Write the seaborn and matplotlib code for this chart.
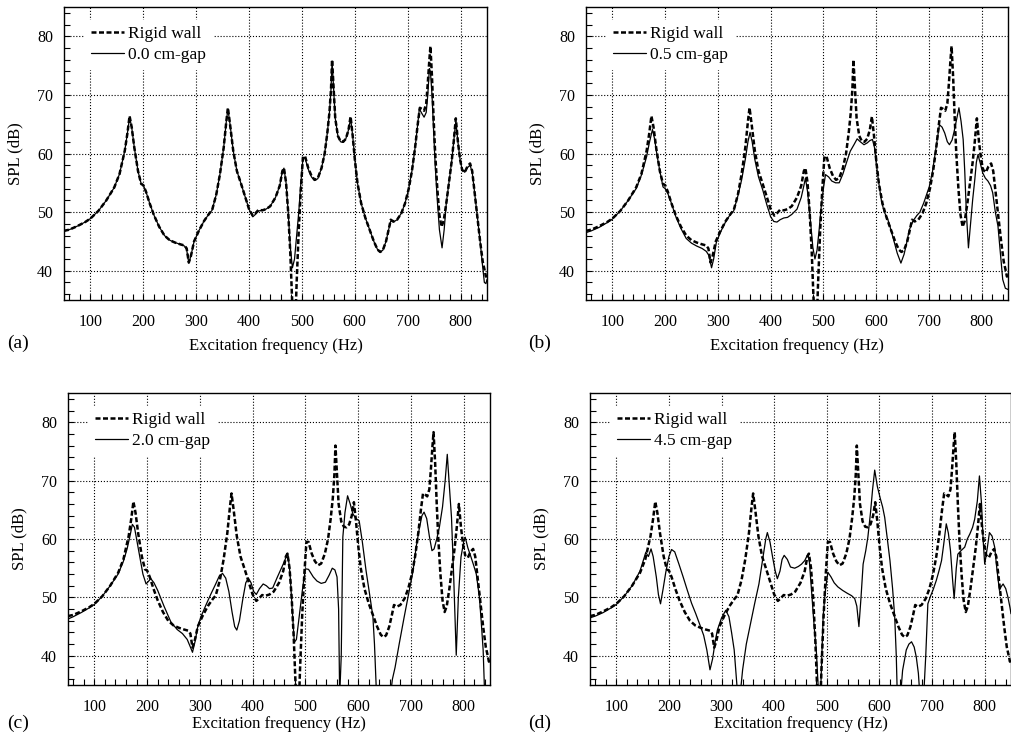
import matplotlib
matplotlib.use("Agg")
import matplotlib.pyplot as plt
from matplotlib.ticker import MultipleLocator
import pandas as pd
import seaborn as sns

sns.set_style("ticks")
plt.rcParams['font.family'] = ['Liberation Serif', 'DejaVu Serif']
plt.rcParams.update({'axes.edgecolor': 'black', 'text.color': 'black',
                     'xtick.color': 'black', 'ytick.color': 'black',
                     'axes.labelcolor': 'black'})

# (frequency Hz, SPL dB)
rigid_wall = [(50, 46.8), (60, 47.0), (75, 47.6), (90, 48.3), (100, 48.9), (115, 50.2), (130, 52.0), (145, 54.2),
              (155, 56.5), (165, 60.5), (170, 63.5), (174, 66.4), (178, 64.5), (183, 61.0), (190, 57.0), (196, 54.8),
              (200, 54.6), (205, 53.5), (212, 51.5), (220, 49.5), (230, 47.5), (240, 46.0), (250, 45.2), (260, 44.8),
              (270, 44.5), (278, 44.3), (282, 43.8), (286, 41.4), (290, 42.5), (296, 45.0), (305, 46.8), (315, 48.5),
              (325, 49.8), (330, 50.3), (338, 53.0), (345, 56.5), (352, 61.0), (357, 65.5), (360, 67.8), (364, 65.0),
              (370, 60.5), (377, 57.0), (385, 54.8), (393, 52.5), (400, 50.5), (407, 49.4), (412, 49.8), (418, 50.4),
              (425, 50.3), (432, 50.5), (440, 51.0), (450, 52.5), (458, 54.5), (463, 57.0), (466, 57.5), (470, 55.0),
              (474, 50.0), (478, 43.0), (481, 36.0), (484, 30.0), (487, 30.0), (490, 38.0), (494, 47.0), (498, 54.0),
              (502, 59.5), (506, 59.5), (512, 57.5), (518, 56.2), (524, 55.5), (530, 55.8), (537, 57.5), (543, 60.0),
              (548, 63.5), (552, 67.0), (555, 71.0), (557, 76.0), (560, 71.0), (563, 66.0), (568, 63.0), (573, 62.1),
              (578, 62.0), (583, 62.5), (588, 64.0), (592, 66.3), (596, 63.0), (600, 59.0), (605, 55.0), (612, 51.5),
              (620, 49.0), (628, 47.0), (636, 45.0), (643, 43.6), (648, 43.2), (653, 43.5), (659, 45.0), (664, 47.0),
              (668, 48.7), (673, 48.4), (680, 48.7), (688, 49.8), (695, 51.5), (702, 54.0), (708, 57.0), (714, 61.0),
              (719, 65.0), (723, 67.8), (727, 67.6), (731, 67.3), (735, 68.5), (738, 72.0), (741, 76.0), (743, 78.3),
              (746, 73.0), (749, 66.0), (752, 60.0), (756, 54.0), (760, 49.5), (764, 47.5), (768, 48.5), (773, 51.5),
              (778, 55.0), (783, 58.5), (787, 62.0), (791, 66.0), (795, 62.0), (799, 59.0), (803, 57.2), (808, 56.8),
              (813, 57.8), (818, 58.3), (822, 57.0), (827, 53.0), (832, 49.0), (837, 45.0), (842, 41.5), (845, 40.3),
              (848, 39.0), (850, 39.5)]

gap_00 = [(50, 46.8), (60, 47.0), (75, 47.6), (90, 48.3), (100, 48.9), (115, 50.2), (130, 52.0), (145, 54.2),
          (155, 56.5), (165, 60.5), (170, 63.5), (174, 66.2), (178, 64.5), (183, 61.0), (190, 57.0), (196, 54.8),
          (200, 54.6), (205, 53.5), (212, 51.5), (220, 49.5), (230, 47.5), (240, 46.0), (250, 45.2), (260, 44.8),
          (270, 44.5), (278, 44.2), (282, 43.6), (286, 41.3), (290, 42.5), (296, 45.0), (305, 46.8), (315, 48.5),
          (325, 49.8), (330, 50.3), (338, 53.0), (345, 56.5), (352, 61.0), (357, 65.5), (360, 67.6), (364, 65.0),
          (370, 60.5), (377, 57.0), (385, 54.8), (393, 52.5), (400, 50.5), (407, 49.2), (412, 49.6), (418, 50.2),
          (425, 50.3), (432, 50.5), (440, 51.0), (450, 52.5), (458, 54.5), (463, 57.0), (466, 57.5), (470, 55.0),
          (474, 50.0), (478, 44.0), (482, 40.5), (486, 42.0), (490, 46.0), (494, 50.0), (498, 55.0), (502, 59.3),
          (506, 59.2), (512, 57.3), (518, 56.0), (524, 55.4), (530, 55.7), (537, 57.5), (543, 60.0), (548, 63.5),
          (552, 67.0), (555, 71.0), (557, 75.8), (560, 71.0), (563, 66.0), (568, 63.0), (573, 62.0), (578, 61.9),
          (583, 62.5), (588, 64.0), (592, 66.0), (596, 63.0), (600, 59.0), (605, 55.0), (612, 51.5), (620, 49.0),
          (628, 47.0), (636, 45.0), (643, 43.6), (648, 43.2), (653, 43.5), (659, 45.0), (664, 47.0), (668, 48.5),
          (673, 48.3), (680, 48.7), (688, 49.8), (695, 51.5), (702, 54.0), (708, 57.0), (714, 61.0), (719, 65.0),
          (722, 67.6), (727, 66.8), (731, 66.2), (735, 67.0), (738, 70.0), (741, 74.5), (743, 74.0), (746, 70.0),
          (749, 64.0), (752, 58.0), (756, 52.0), (760, 47.0), (765, 43.9), (769, 47.0), (773, 51.5), (778, 55.0),
          (783, 58.5), (787, 62.0), (791, 65.5), (795, 62.0), (799, 59.0), (803, 57.2), (808, 56.8), (813, 57.6),
          (818, 58.0), (822, 56.8), (827, 53.0), (832, 49.0), (837, 45.0), (842, 40.5), (845, 38.0), (848, 37.8),
          (850, 38.5)]

gap_05 = [(50, 46.5), (60, 46.8), (75, 47.4), (90, 48.2), (100, 48.8), (115, 50.2), (130, 52.0), (145, 54.0),
          (155, 56.3), (165, 59.5), (170, 61.8), (176, 64.1), (180, 62.5), (185, 59.5), (190, 57.0), (196, 54.3),
          (200, 54.0), (205, 53.2), (212, 51.5), (220, 49.3), (230, 47.2), (240, 45.5), (250, 44.7), (260, 44.2),
          (270, 43.8), (278, 43.3), (283, 42.6), (288, 40.5), (292, 42.0), (297, 44.8), (305, 46.6), (315, 48.4),
          (325, 49.8), (330, 50.2), (338, 52.8), (345, 55.5), (352, 59.0), (357, 62.0), (361, 63.6), (365, 62.0),
          (370, 59.0), (377, 56.0), (385, 53.8), (393, 51.2), (400, 49.2), (406, 48.4), (412, 48.3), (418, 48.7),
          (425, 49.0), (432, 49.1), (440, 49.6), (450, 50.5), (458, 52.5), (463, 54.5), (466, 55.8), (470, 53.5),
          (475, 49.0), (480, 44.0), (484, 42.0), (488, 43.5), (492, 47.0), (496, 51.0), (500, 54.0), (504, 56.4),
          (510, 56.0), (516, 55.3), (523, 55.0), (530, 55.0), (537, 56.5), (544, 58.5), (551, 60.4), (558, 61.5),
          (564, 62.5), (570, 62.0), (577, 61.5), (583, 61.8), (588, 62.2), (593, 62.4), (597, 61.0), (600, 58.5),
          (605, 55.0), (610, 52.0), (615, 50.1), (622, 48.8), (628, 47.0), (634, 45.0), (640, 43.0), (647, 41.3),
          (653, 42.8), (658, 44.8), (663, 47.0), (670, 48.5), (677, 49.4), (683, 50.0), (690, 51.5), (695, 52.8),
          (701, 54.4), (707, 57.0), (712, 60.0), (716, 62.5), (720, 64.9), (725, 64.5), (730, 63.5), (735, 62.0),
          (739, 61.5), (744, 62.3), (748, 63.8), (753, 66.0), (757, 67.8), (761, 65.5), (765, 62.4), (768, 57.0),
          (771, 50.0), (775, 43.9), (779, 48.0), (783, 52.1), (787, 55.5), (790, 58.5), (793, 59.8), (797, 58.5),
          (802, 56.7), (807, 55.8), (812, 55.3), (817, 54.5), (821, 53.3), (826, 50.0), (831, 47.6), (836, 42.5),
          (840, 38.5), (845, 37.0), (850, 36.8)]

gap_20 = [(50, 46.3), (60, 46.7), (75, 47.4), (90, 48.2), (100, 48.8), (115, 50.2), (130, 52.0), (145, 54.0),
          (155, 56.2), (162, 58.3), (167, 60.3), (172, 62.5), (176, 62.0), (180, 60.0), (185, 57.5), (192, 54.0),
          (198, 52.3), (203, 52.8), (207, 53.2), (213, 52.5), (220, 51.2), (232, 48.5), (245, 45.8), (257, 44.5),
          (267, 43.8), (276, 42.8), (282, 41.5), (286, 40.6), (291, 42.5), (296, 45.0), (302, 46.7), (312, 48.8),
          (321, 50.6), (330, 52.3), (337, 53.7), (343, 54.1), (349, 53.3), (355, 51.0), (361, 47.5), (366, 45.0),
          (370, 44.4), (375, 46.0), (381, 49.5), (387, 52.5), (392, 53.3), (397, 52.5), (402, 51.0), (407, 50.5),
          (413, 51.5), (420, 52.3), (426, 52.0), (432, 51.5), (438, 51.6), (447, 53.5), (458, 55.7), (463, 56.8),
          (467, 57.4), (471, 54.0), (475, 48.0), (479, 42.3), (483, 42.8), (488, 46.5), (494, 51.0), (500, 54.9),
          (506, 54.8), (515, 53.5), (522, 52.8), (530, 52.4), (538, 52.6), (545, 53.8), (551, 55.0), (556, 54.7),
          (560, 53.5), (563, 48.0), (565, 33.0), (568, 40.0), (571, 60.3), (575, 64.5), (580, 67.4), (585, 66.0),
          (590, 64.3), (596, 63.5), (602, 63.1), (608, 59.5), (615, 54.6), (621, 51.0), (628, 46.7), (631, 42.0),
          (635, 33.0), (661, 33.0), (665, 36.0), (670, 38.0), (678, 42.1), (687, 46.5), (697, 51.2), (704, 54.5),
          (710, 58.6), (716, 61.8), (721, 64.0), (725, 64.6), (730, 63.5), (735, 60.5), (740, 58.0), (744, 58.3),
          (749, 60.0), (754, 62.0), (760, 65.5), (765, 70.0), (769, 74.5), (773, 69.0), (777, 63.7), (781, 54.0),
          (786, 40.1), (790, 50.0), (795, 56.9), (800, 59.5), (803, 60.3), (808, 58.5), (814, 56.9), (819, 55.5),
          (824, 54.0), (830, 50.0), (834, 45.0), (837, 41.0), (840, 33.0)]

gap_45 = [(50, 46.5), (60, 46.8), (75, 47.4), (90, 48.2), (100, 48.8), (115, 50.2), (130, 52.0), (145, 54.5),
          (152, 56.5), (156, 57.7), (161, 57.0), (166, 58.3), (170, 57.0), (176, 53.5), (180, 50.5), (184, 48.9),
          (189, 51.5), (194, 54.3), (200, 57.0), (205, 58.2), (211, 57.8), (219, 55.7), (227, 53.5), (235, 51.2),
          (243, 49.0), (251, 47.2), (258, 45.5), (266, 43.5), (272, 41.0), (278, 37.6), (283, 39.5), (288, 42.5),
          (292, 44.4), (300, 46.5), (308, 47.8), (314, 46.7), (319, 44.0), (324, 41.0), (330, 34.0), (335, 33.0),
          (340, 37.6), (347, 42.0), (355, 45.5), (363, 49.0), (371, 52.3), (379, 57.0), (384, 60.0), (387, 61.1),
          (392, 59.5), (397, 56.9), (402, 54.5), (406, 53.2), (411, 54.5), (415, 56.5), (419, 57.2), (425, 56.5),
          (431, 55.2), (439, 55.0), (446, 55.3), (452, 55.7), (458, 56.3), (464, 57.4), (467, 56.0), (471, 51.0),
          (476, 45.0), (480, 41.0), (484, 34.0), (488, 33.0), (493, 46.7), (497, 51.0), (502, 54.3), (508, 53.5),
          (514, 52.5), (521, 51.8), (530, 51.2), (539, 50.7), (547, 50.3), (553, 49.8), (557, 48.5), (561, 45.0),
          (565, 50.0), (569, 55.7), (574, 58.0), (578, 60.3), (583, 64.5), (587, 68.5), (591, 71.8), (596, 69.0),
          (602, 66.8), (606, 65.5), (610, 63.7), (615, 60.0), (620, 56.3), (625, 51.5), (629, 46.7), (632, 40.0),
          (634, 33.0), (640, 33.0), (644, 37.5), (651, 41.0), (656, 42.0), (661, 42.4), (666, 41.5), (670, 39.8),
          (674, 37.0), (677, 33.0), (684, 33.0), (688, 40.0), (692, 48.9), (697, 50.2), (702, 51.3), (708, 52.9),
          (713, 54.5), (718, 56.3), (722, 59.0), (727, 62.6), (731, 61.0), (735, 58.0), (739, 53.0), (742, 49.8),
          (746, 55.0), (749, 57.4), (755, 58.0), (762, 58.6), (767, 60.0), (772, 60.9), (777, 62.0), (781, 63.4),
          (786, 66.5), (790, 70.8), (794, 66.0), (797, 60.0), (800, 55.7), (805, 58.5), (809, 61.1), (814, 60.5),
          (819, 58.6), (823, 55.0), (828, 51.2), (831, 51.8), (835, 52.3), (840, 51.5), (844, 50.1), (848, 48.3),
          (850, 47.2)]

gap_labels = ['0.0 cm-gap', '0.5 cm-gap', '2.0 cm-gap', '4.5 cm-gap']
panel_tags = ['(a)', '(b)', '(c)', '(d)']
gap_curves = [gap_00, gap_05, gap_20, gap_45]

fig = plt.figure(figsize=(10.12, 7.40), dpi=100)

# axes boxes in pixels: left, top, width, height
boxes = [(64, 7, 423, 293), (586, 7, 422, 293), (68, 393, 422, 292), (590, 393, 421, 292)]
tag_pos = [(7, 343), (528, 343), (7, 723), (528, 723)]
xlabel_pads = [6, 6, 1, 1]

rigid = pd.DataFrame(rigid_wall, columns=['f', 'spl'])

for box, curve, lab, tag, tp, xpad in zip(boxes, gap_curves, gap_labels, panel_tags, tag_pos, xlabel_pads):
    l, t, w, h = box
    ax = fig.add_axes([l / 1012, 1 - (t + h) / 740, w / 1012, h / 740])
    gap = pd.DataFrame(curve, columns=['f', 'spl'])

    sns.lineplot(data=rigid, x='f', y='spl', ax=ax, color='black', lw=1.8,
                 linestyle=(0, (2, 1)), label='Rigid wall', estimator=None, sort=False)
    sns.lineplot(data=gap, x='f', y='spl', ax=ax, color='black', lw=0.9,
                 label=lab, estimator=None, sort=False)

    ax.set_xlim(50, 850)
    ax.set_ylim(35, 85)
    ax.xaxis.set_major_locator(MultipleLocator(100))
    ax.xaxis.set_minor_locator(MultipleLocator(20))
    ax.yaxis.set_major_locator(MultipleLocator(10))
    ax.yaxis.set_minor_locator(MultipleLocator(2))
    ax.tick_params(which='both', direction='in', length=4.5, width=0.8,
                   top=False, right=False, labelsize=11.5)
    ax.tick_params(axis='x', pad=10)
    ax.tick_params(axis='y', pad=8)
    ax.set_axisbelow(True)
    ax.grid(True, which='major', linestyle=':', color='black', lw=0.8)
    for s in ax.spines.values():
        s.set_visible(True)
        s.set_linewidth(1.0)
        s.set_color('black')

    ax.set_xlabel('Excitation frequency (Hz)', fontsize=12, labelpad=xpad)
    ax.set_ylabel('SPL (dB)', fontsize=12, labelpad=10)

    leg = ax.legend(loc='upper left', bbox_to_anchor=(0.05, 0.955), frameon=True, fancybox=False,
                    fontsize=12.5, handlelength=1.9, handletextpad=0.2, borderaxespad=0,
                    borderpad=0.35, labelspacing=0.25)
    leg.get_frame().set_facecolor('white')
    leg.get_frame().set_edgecolor('white')
    leg.get_frame().set_alpha(1)

    fig.text(tp[0] / 1012, 1 - tp[1] / 740, tag, fontsize=14, ha='left', va='center')

fig.savefig('out.png', dpi=100)
